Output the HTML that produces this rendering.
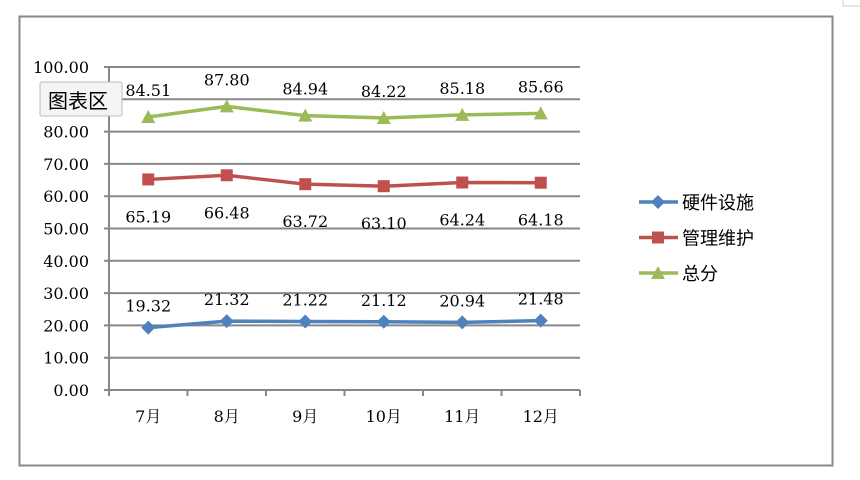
<!DOCTYPE html>
<html><head><meta charset="utf-8"><style>
html,body{margin:0;padding:0;background:#fff;}
svg{display:block;font-family:"DejaVu Serif","Noto Serif CJK SC","Noto Sans CJK SC",serif;}
</style></head><body>
<svg width="860" height="480">
<rect x="843" y="-2" width="20" height="8" fill="#fff" stroke="#ccc"/>
<rect x="19.5" y="16.5" width="813" height="449" fill="#fff" stroke="#888" stroke-width="2"/>
<g id="grid"></g><g id="axes"></g><g id="series"></g><g id="legend"></g>
<g>
<rect x="40" y="82" width="82" height="34" fill="#f4f4f4" stroke="#bbb" rx="2"/>
<text x="48" y="108" font-size="20" font-family="Noto Sans CJK SC,sans-serif">图表区</text>
</g>
</svg>
<script>
const categories=["7月","8月","9月","10月","11月","12月"];
const hardware=[19.32,21.32,21.22,21.12,20.94,21.48];
const management=[65.19,66.48,63.72,63.10,64.24,64.18];
const total=[84.51,87.80,84.94,84.22,85.18,85.66];
const yTicks=[0,10,20,30,40,50,60,70,80,90,100];
const seriesNames=["硬件设施","管理维护","总分"];
const NS="http://www.w3.org/2000/svg";
const X0=109,X1=580,Y0=390,Y1=67;
const cw=(X1-X0)/categories.length;
const xs=i=>X0+cw*(i+0.5);
const ys=v=>Y0-(v/100)*(Y0-Y1);
function mk(t,a,p){const e=document.createElementNS(NS,t);for(const k in a)e.setAttribute(k,a[k]);p.appendChild(e);return e;}
const grid=document.getElementById('grid'),axes=document.getElementById('axes'),ser=document.getElementById('series'),leg=document.getElementById('legend');
yTicks.forEach(v=>{
 const y=ys(v);
 const l=mk('line',{x1:104,x2:X1,y1:y,y2:y,stroke:'#888','stroke-width':2},grid);
 
 
 const t=mk('text',{x:89,y:y+6,'font-size':16,'text-anchor':'end'},axes);
 t.textContent=v.toFixed(2);
 
 
});
const ya=mk('line',{x1:X0,x2:X0,y1:Y1,y2:Y0+6,stroke:'#888','stroke-width':2},axes);


for(let i=0;i<=categories.length;i++){
 const tk=mk('line',{x1:X0+cw*i,x2:X0+cw*i,y1:Y0,y2:Y0+6,stroke:'#888','stroke-width':2},axes);
 
 
}
categories.forEach((c,i)=>{
 const t=mk('text',{x:xs(i),y:Y0+32,'font-size':16,'text-anchor':'middle'},axes);
 t.textContent=c;
 
 
});
function marker(type,x,y,col,g){
 if(type==='d')return mk('polygon',{points:`${x},${y-7} ${x+7},${y} ${x},${y+7} ${x-7},${y}`,fill:col},g);
 if(type==='s')return mk('rect',{x:x-6,y:y-6,width:12,height:12,fill:col},g);
 return mk('polygon',{points:`${x},${y-7} ${x+7},${y+6} ${x-7},${y+6}`,fill:col},g);
}
const defs=[[hardware,'#4f81bd','d',-22,'hardware'],[management,'#c0504d','s',37,'management'],[total,'#9bbb59','t',-27,'total']];
defs.forEach(([d,col,m,off,nm])=>{
 const g=mk('g',{},ser);
 
 
 const pl=mk('polyline',{points:d.map((v,i)=>xs(i)+','+ys(v)).join(' '),fill:'none',stroke:col,'stroke-width':3.5},g);
 
 
 d.forEach((v,i)=>{
  const mm=marker(m,xs(i),ys(v),col,g);
  
  
  const t=mk('text',{x:xs(i),y:ys(v)+off+6,'font-size':16,'text-anchor':'middle'},g);
  t.textContent=v.toFixed(2);
  
  
 });
});
seriesNames.forEach((n,i)=>{
 const y=202+i*35.5,col=defs[i][1];
 const g=mk('g',{},leg);
 
 
 mk('line',{x1:639,x2:678,y1:y,y2:y,stroke:col,'stroke-width':3.5},g);
 marker(defs[i][2],658,y,col,g);
 const t=mk('text',{x:682,y:y+7,'font-size':18,'font-family':'Noto Sans CJK SC,sans-serif'},g);
 t.textContent=n;
});
</script>
</body></html>
